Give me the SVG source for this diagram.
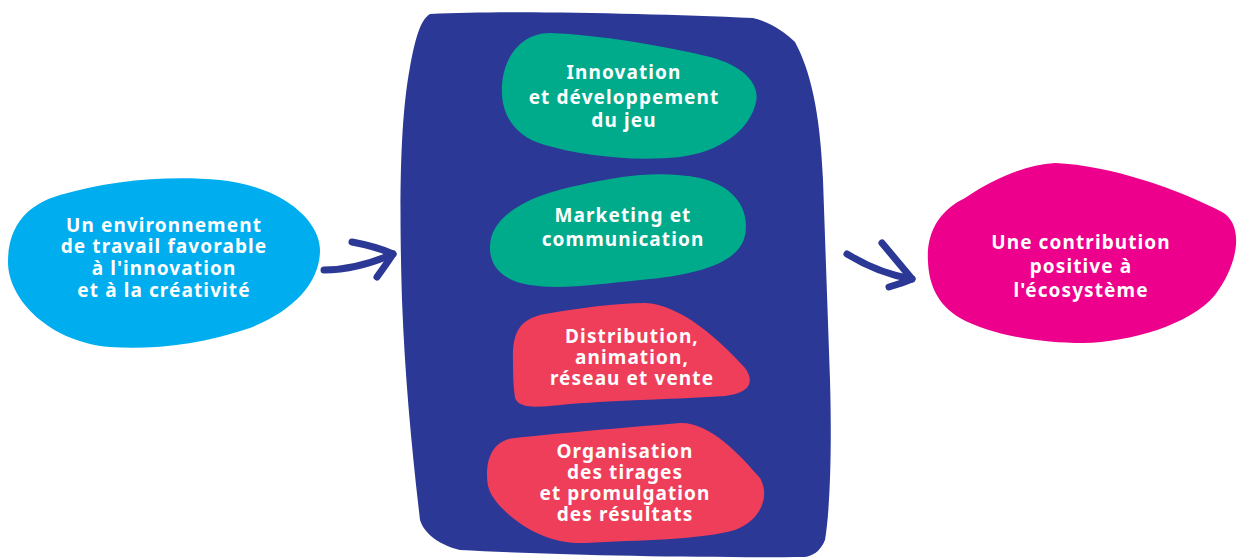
<svg xmlns="http://www.w3.org/2000/svg" width="1239" height="560" viewBox="0 0 1239 560">
<style>
.t{font-family:"Noto Sans","Liberation Sans",sans-serif;font-weight:700;font-size:19px;letter-spacing:1.1px;fill:#ffffff;text-anchor:middle}
.arr{fill:none;stroke:#2b3896;stroke-width:7;stroke-linecap:round;stroke-linejoin:round}
</style>
<rect width="1239" height="560" fill="#ffffff"/>
<g id="panel">
<path fill="#2b3896" d="M430,14 C520,10 650,14 753,18 C770,22 785,32 795,42 C810,70 820,110 823,180 L830,380 C832,450 830,510 825,540 C820,552 812,556 805,557 C700,558 550,555 460,550 C440,545 425,535 420,520 C412,450 405,380 402,300 C399,200 400,120 410,67 C415,40 420,20 430,14 Z"/>
</g>
<g id="node-environnement">
<path fill="#00aeef" d="M8,262 C8,228 25,205 60,195 C110,180 170,175 220,180 C285,187 320,222 320,250 C320,282 295,310 250,328 C200,345 150,350 110,347 C50,342 8,300 8,262 Z"/>
<text class="t" x="164" y="232">Un environnement</text>
<text class="t" x="164" y="253">de travail favorable</text>
<text class="t" x="164" y="275">à l'innovation</text>
<text class="t" x="164" y="297">et à la créativité</text>
</g>
<g id="node-innovation">
<path fill="#00ab8c" d="M502,95 C500,60 520,33 550,33 C600,35 660,45 710,57 C745,66 760,85 756,102 C750,130 720,152 680,157 C630,162 580,155 545,145 C515,137 503,115 502,95 Z"/>
<text class="t" x="624" y="79">Innovation</text>
<text class="t" x="624" y="104">et développement</text>
<text class="t" x="624" y="127">du jeu</text>
</g>
<g id="node-marketing">
<path fill="#00ab8c" d="M490,250 C488,215 530,195 580,185 C620,176 660,170 700,178 C735,186 750,210 745,235 C740,262 700,275 640,280 C600,284 560,290 530,285 C500,280 491,265 490,250 Z"/>
<text class="t" x="623" y="222">Marketing et</text>
<text class="t" x="623" y="246">communication</text>
</g>
<g id="node-distribution">
<path fill="#ef3e5a" d="M513,360 C512,330 522,318 545,314 C580,308 615,303 645,303 C680,304 720,340 745,368 C755,382 750,393 725,396 C680,399 620,400 570,404 C540,407 520,410 515,398 C513,385 513,372 513,360 Z"/>
<text class="t" x="632" y="343">Distribution,</text>
<text class="t" x="632" y="364">animation,</text>
<text class="t" x="632" y="385">réseau et vente</text>
</g>
<g id="node-organisation">
<path fill="#ef3e5a" d="M487,475 C487,455 495,440 515,438 C560,433 620,428 680,423 C710,422 740,455 760,478 C770,495 762,520 735,530 C700,540 640,540 585,543 C545,545 510,520 495,500 C489,492 487,485 487,475 Z"/>
<text class="t" x="625" y="458">Organisation</text>
<text class="t" x="625" y="479">des tirages</text>
<text class="t" x="625" y="500">et promulgation</text>
<text class="t" x="625" y="521">des résultats</text>
</g>
<g id="node-contribution">
<path fill="#ec008c" d="M928,262 C926,232 940,210 965,198 C995,178 1025,165 1055,163 C1110,165 1180,190 1222,212 C1245,225 1238,265 1215,295 C1190,325 1130,342 1083,343 C1040,343 990,335 960,318 C938,305 929,285 928,262 Z"/>
<text class="t" x="1081" y="249">Une contribution</text>
<text class="t" x="1081" y="273">positive à</text>
<text class="t" x="1081" y="297">l'écosystème</text>
</g>
<g id="connectors">
<path class="arr" d="M324,270 C345,270 370,264 393,254"/>
<path class="arr" d="M352,242 C368,245 382,249 393,254 C388,262 382,270 377,277"/>
<path class="arr" d="M847,254 C865,265 888,275 912,279"/>
<path class="arr" d="M882,243 C892,255 903,268 912,279 C905,282 896,285 889,287"/>
</g>
</svg>
